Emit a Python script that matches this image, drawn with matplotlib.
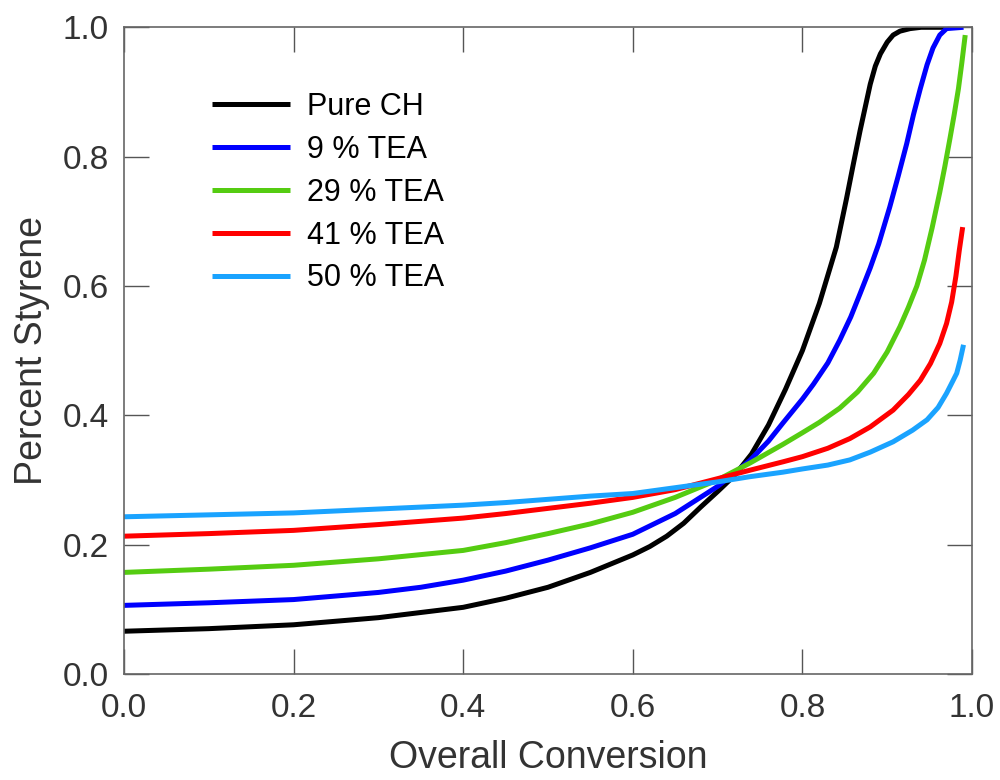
import matplotlib
matplotlib.use("Agg")
import matplotlib.pyplot as plt

plt.rcParams['font.family'] = ['Liberation Sans', 'DejaVu Sans']

# values
x_pure = [0, 0.1, 0.2, 0.3, 0.4, 0.45, 0.5, 0.55, 0.6, 0.62, 0.64, 0.66, 0.68, 0.70,
          0.72, 0.74, 0.76, 0.78, 0.80, 0.82, 0.84, 0.852, 0.86, 0.868, 0.875, 0.88,
          0.886, 0.892, 0.90, 0.907, 0.915, 0.927, 0.94, 0.974]
y_pure = [0.066, 0.070, 0.076, 0.087, 0.103, 0.117, 0.134, 0.157, 0.184, 0.197, 0.213,
          0.233, 0.258, 0.282, 0.307, 0.340, 0.385, 0.440, 0.500, 0.573, 0.660, 0.735,
          0.788, 0.840, 0.882, 0.912, 0.940, 0.959, 0.977, 0.988, 0.994, 0.998, 1.0, 1.0]

x_tea9 = [0, 0.1, 0.2, 0.3, 0.35, 0.4, 0.45, 0.5, 0.55, 0.6, 0.65, 0.7, 0.738, 0.76,
          0.777, 0.8, 0.813, 0.83, 0.844, 0.857, 0.868, 0.88, 0.89, 0.903, 0.913, 0.923,
          0.931, 0.939, 0.947, 0.954, 0.962, 0.97, 0.99]
y_tea9 = [0.106, 0.110, 0.115, 0.126, 0.134, 0.145, 0.159, 0.176, 0.195, 0.216, 0.248,
          0.290, 0.330, 0.360, 0.388, 0.425, 0.448, 0.481, 0.516, 0.552, 0.588, 0.628,
          0.665, 0.722, 0.770, 0.820, 0.865, 0.905, 0.942, 0.968, 0.988, 0.998, 1.0]

x_tea29 = [0, 0.1, 0.2, 0.3, 0.4, 0.45, 0.5, 0.55, 0.6, 0.65, 0.7, 0.738, 0.777, 0.8,
           0.82, 0.844, 0.865, 0.884, 0.9, 0.915, 0.925, 0.935, 0.944, 0.953, 0.962,
           0.968, 0.974, 0.979, 0.984, 0.988, 0.992]
y_tea29 = [0.157, 0.162, 0.168, 0.178, 0.191, 0.203, 0.217, 0.232, 0.250, 0.273, 0.300,
           0.326, 0.355, 0.373, 0.389, 0.411, 0.436, 0.465, 0.498, 0.537, 0.567, 0.600,
           0.640, 0.690, 0.745, 0.785, 0.828, 0.865, 0.905, 0.945, 0.988]

x_tea41 = [0, 0.1, 0.2, 0.3, 0.4, 0.45, 0.5, 0.55, 0.6, 0.65, 0.7, 0.738, 0.777, 0.8,
           0.83, 0.856, 0.88, 0.907, 0.925, 0.939, 0.951, 0.962, 0.97, 0.976, 0.981,
           0.985, 0.989]
y_tea41 = [0.213, 0.217, 0.222, 0.231, 0.241, 0.248, 0.256, 0.264, 0.273, 0.285, 0.302,
           0.315, 0.328, 0.336, 0.349, 0.364, 0.382, 0.408, 0.432, 0.454, 0.480, 0.511,
           0.542, 0.575, 0.615, 0.655, 0.691]

x_tea50 = [0, 0.1, 0.2, 0.3, 0.4, 0.45, 0.5, 0.55, 0.6, 0.65, 0.7, 0.738, 0.777, 0.8,
           0.83, 0.856, 0.88, 0.907, 0.93, 0.947, 0.96, 0.97, 0.977, 0.982, 0.986, 0.99]
y_tea50 = [0.243, 0.246, 0.249, 0.255, 0.261, 0.265, 0.270, 0.275, 0.279, 0.288, 0.297,
           0.305, 0.312, 0.317, 0.323, 0.331, 0.343, 0.359, 0.377, 0.393, 0.412, 0.434,
           0.452, 0.465, 0.485, 0.509]

labels = ['Pure CH', '9 % TEA', '29 % TEA', '41 % TEA', '50 % TEA']
colors = ['#000000', '#0000ff', '#55cc11', '#ff0000', '#1aa3ff']
ticks = [0.0, 0.2, 0.4, 0.6, 0.8, 1.0]

fig = plt.figure(figsize=(10, 7.8), dpi=100)
ax = fig.add_axes([0.124, 0.136, 0.848, 0.829])

series = [(x_pure, y_pure), (x_tea9, y_tea9), (x_tea29, y_tea29),
          (x_tea41, y_tea41), (x_tea50, y_tea50)]
for (xs, ys), lab, c in zip(series, labels, colors):
    ax.plot(xs, ys, color=c, lw=3.6, label=lab, solid_capstyle='butt',
            solid_joinstyle='round')

ax.set_xlim(0, 1)
ax.set_ylim(0, 1)
ax.set_xticks(ticks)
ax.set_yticks(ticks)
ax.set_xticklabels(['%.1f' % t for t in ticks])
ax.set_yticklabels(['%.1f' % t for t in ticks])
for s in ax.spines.values():
    s.set_color('#666666')
    s.set_linewidth(1.2)
ax.tick_params(direction='in', length=18, width=1, color='#555555',
               top=True, right=True, labelsize=24, labelcolor='#333333')
ax.tick_params(axis='x', pad=14)
ax.tick_params(axis='y', pad=11)

ax.set_xlabel('Overall Conversion', fontsize=27, color='#333333', labelpad=11)
ax.set_ylabel('Percent Styrene', fontsize=27, color='#333333', labelpad=9)

ax.legend(loc='upper left', bbox_to_anchor=(0.212, 0.882), bbox_transform=fig.transFigure,
          frameon=False, fontsize=22, handlelength=2.55, handletextpad=0.55,
          labelspacing=0.42, borderpad=0, borderaxespad=0)

fig.savefig('out.png', dpi=100)
